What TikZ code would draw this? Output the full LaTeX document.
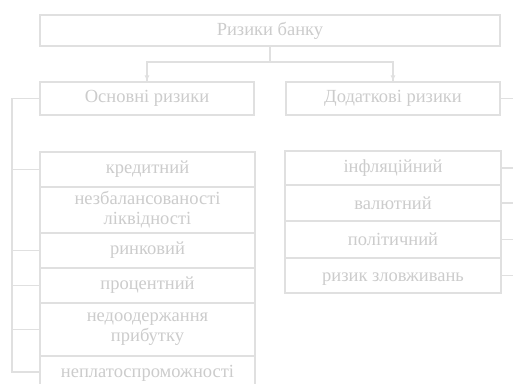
\documentclass[tikz,border=0pt]{standalone}
\usepackage{fontspec}
\setmainfont{Liberation Serif}
\usetikzlibrary{arrows.meta}
\definecolor{linecol}{RGB}{224,224,224}
\definecolor{textcol}{RGB}{204,204,204}
\begin{document}
\begin{tikzpicture}[x=1pt,y=-1pt,
  box/.style={draw=linecol, line width=1.4pt, rectangle, inner sep=0pt, text=textcol,
    align=center, font=\fontsize{18.5}{20}\selectfont},
  conn/.style={draw=linecol, line width=1.4pt},
  arr/.style={conn, -{Latex[length=6pt,width=5pt]}}]
\useasboundingbox (0,0) rectangle (513,383);
\fill[white] (0,0) rectangle (513,383);
% top
\node[box, minimum width=460pt, minimum height=31pt] (top) at (270,30.5) {Ризики банку};
\node[box, minimum width=214pt, minimum height=33pt] (osn) at (147,98.5) {Основні ризики};
\node[box, minimum width=214pt, minimum height=33pt] (dod) at (393,98.5) {Додаткові ризики};
% left column
\node[box, minimum width=215pt, minimum height=35pt] (r1) at (147.5,169.5) {кредитний};
\node[box, minimum width=215pt, minimum height=46pt] (r2) at (147.5,210) {незбалансованості\\ліквідності};
\node[box, minimum width=215pt, minimum height=35pt] (r3) at (147.5,250.5) {ринковий};
\node[box, minimum width=215pt, minimum height=35pt] (r4) at (147.5,285.5) {процентний};
\node[box, minimum width=215pt, minimum height=53pt] (r5) at (147.5,329.5) {недоодержання\\прибутку};
\node[box, minimum width=215pt, minimum height=34pt] (r6) at (147.5,373) {неплатоспроможності};
% right column
\node[box, minimum width=216pt, minimum height=34pt] (d1) at (393,168) {інфляційний};
\node[box, minimum width=216pt, minimum height=36pt] (d2) at (393,203) {валютний};
\node[box, minimum width=216pt, minimum height=37pt] (d3) at (393,239.5) {політичний};
\node[box, minimum width=216pt, minimum height=35pt] (d4) at (393,275.5) {\vphantom{Й}ризик зловживань};
% top connectors
\coordinate (split) at (270,62);
\draw[conn] (top.south) -- (split);
\draw[conn] (split) -| (osn.north);
\draw[conn] (split) -| (dod.north);
\draw[arr] (osn.north |- split) -- (osn.north);
\draw[arr] (dod.north |- split) -- (dod.north);
% left bus
\coordinate (lbt) at (12,98.5);
\coordinate (lbb) at (12,372);
\draw[conn] (osn.west) -- (lbt) -- (lbb) -- (r6.west |- lbb);
\foreach \n in {r1,r3,r4,r5} \draw[conn] (\n.west) -- (\n.west -| lbt);
% right stubs
\coordinate (rb) at (513,0);
\foreach \n in {dod,d1,d2,d3,d4} \draw[conn] (\n.east) -- (\n.east -| rb);
\end{tikzpicture}
\end{document}
